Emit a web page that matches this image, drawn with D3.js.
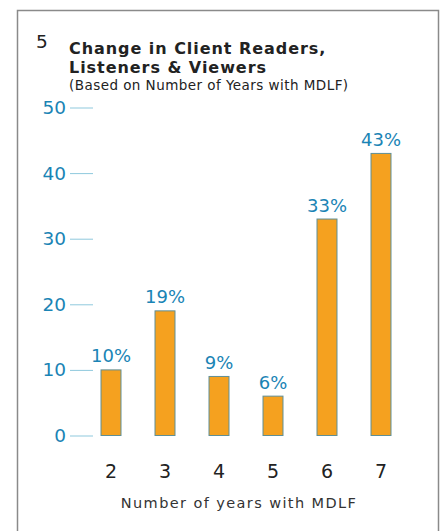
<!DOCTYPE html>
<html>
<head>
<meta charset="utf-8">
<script src="https://cdn.jsdelivr.net/npm/d3@7"></script>
<style>
  html, body { margin: 0; padding: 0; background: #fff; }
  svg { display: block; }
  text { font-family: "DejaVu Sans", sans-serif; }
</style>
</head>
<body>
<svg id="chart" width="443" height="531"></svg>
<script>
// Years with MDLF and the change in client audience (%)
const years = ["2", "3", "4", "5", "6", "7"];
const changePct = [10, 19, 9, 6, 33, 43];
const yTicks = [0, 10, 20, 30, 40, 50];

const svg = d3.select("#chart");

// panel frame (open at the bottom)
svg.append("path")
  .attr("d", "M17.5,531 V10.5 H438.5 V531")
  .attr("fill", "none")
  .attr("stroke", "#8a8a8a")
  .attr("stroke-width", 1.5);

// headings
svg.append("text").attr("x", 36).attr("y", 47.5)
  .attr("font-size", 18.5).attr("fill", "#222").text("5");
svg.append("text").attr("x", 69).attr("y", 53.5)
  .attr("font-size", 16).attr("font-weight", "bold").attr("letter-spacing", 0.95)
  .attr("fill", "#222").text("Change in Client Readers,");
svg.append("text").attr("x", 69).attr("y", 72.7)
  .attr("font-size", 16).attr("font-weight", "bold").attr("letter-spacing", 0.95)
  .attr("fill", "#222").text("Listeners & Viewers");
svg.append("text").attr("x", 69).attr("y", 90)
  .attr("font-size", 13.5).attr("letter-spacing", 0.45)
  .attr("fill", "#222").text("(Based on Number of Years with MDLF)");

// scales
const y = d3.scaleLinear().domain([0, 50]).range([435.5, 107.5]);
const x = d3.scaleBand().domain(years).range([84, 408]).paddingInner(0.63).paddingOuter(0.315);

// y axis: short light-blue ticks with blue labels
const yAxis = svg.append("g").attr("transform", "translate(93,0)")
  .call(d3.axisLeft(y).tickValues(yTicks).tickSize(23).tickPadding(4));
yAxis.select(".domain").remove();
yAxis.selectAll(".tick line").attr("stroke", "#8fc9dd").attr("stroke-width", 1);
yAxis.selectAll(".tick text")
  .attr("font-family", "DejaVu Sans Condensed, DejaVu Sans, sans-serif")
  .attr("font-size", 18.5).attr("fill", "#1a84b5");

// bars
svg.append("g").selectAll("rect")
  .data(changePct)
  .join("rect")
  .attr("x", (d, i) => x(years[i]))
  .attr("y", d => y(d))
  .attr("width", x.bandwidth())
  .attr("height", d => y(0) - y(d))
  .attr("fill", "#f5a11f")
  .attr("stroke", "#5f8f96")
  .attr("stroke-width", 1);

// value labels
svg.append("g").selectAll("text")
  .data(changePct)
  .join("text")
  .attr("x", (d, i) => x(years[i]) + x.bandwidth() / 2)
  .attr("y", d => y(d) - 7.5)
  .attr("text-anchor", "middle")
  .attr("font-size", 18)
  .attr("fill", "#1a84b5")
  .text(d => d + "%");

// x axis labels
const xAxis = svg.append("g").attr("transform", "translate(0,457)")
  .call(d3.axisBottom(x).tickSize(0).tickPadding(8));
xAxis.select(".domain").remove();
xAxis.selectAll(".tick text")
  .attr("font-family", "DejaVu Sans, sans-serif")
  .attr("font-size", 19).attr("fill", "#222");

svg.append("text").attr("x", 239).attr("y", 508)
  .attr("text-anchor", "middle")
  .attr("font-size", 14.5).attr("letter-spacing", 1.4)
  .attr("fill", "#333").text("Number of years with MDLF");
</script>
</body>
</html>
